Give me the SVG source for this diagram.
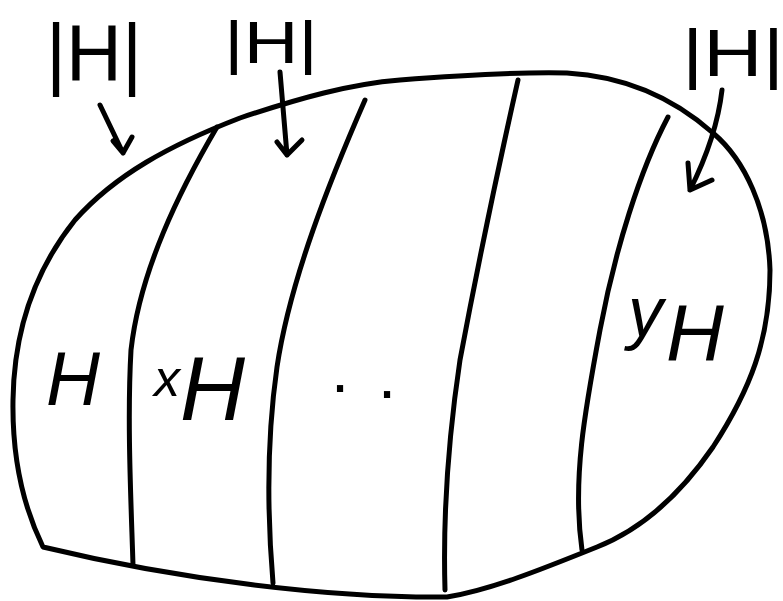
<svg xmlns="http://www.w3.org/2000/svg" width="783" height="601" viewBox="0 0 783 601">
<style>
.ink{fill:none;stroke:#000;stroke-width:5;stroke-linecap:round;stroke-linejoin:round}
.lbl{font-family:"Liberation Sans",Arial,sans-serif;fill:#000}
.it{font-style:italic}
</style>
<rect width="783" height="601" fill="#fff"/>
<g id="group-G">
<path class="ink" d="M43,547 C25,510 12,460 13,400 C14,330 35,270 75,220 C115,175 170,145 240,118 C300,98 350,84 400,80 C450,76 520,72 567,73 C620,76 670,95 713,133 C745,160 768,210 770,270 C770,340 750,390 713,447 C680,495 640,530 597,547 C540,570 490,590 447,597 C330,598 180,580 43,547 Z"/>
</g>
<g id="partitions">
<path class="ink" d="M217,127 C180,190 140,270 131,350 C127,420 131,500 133,565"/>
<path class="ink" d="M365,100 C330,180 290,280 277,367 C268,430 266,500 273,583"/>
<path class="ink" d="M518,80 C500,160 475,280 460,360 C448,440 443,520 445,590"/>
<path class="ink" d="M668,117 C640,170 615,250 600,330 C585,410 572,480 582,550"/>
</g>
<g id="coset-H"><text class="lbl it" x="46" y="405" font-size="76" textLength="54" lengthAdjust="spacingAndGlyphs">H</text></g>
<g id="coset-xH"><text class="lbl it"><tspan x="154" y="396" font-size="52">x</tspan><tspan x="180" y="420" font-size="90">H</tspan></text></g>
<g id="ellipsis"><text class="lbl" font-size="65"><tspan x="331" y="392">.</tspan><tspan x="378" y="398">.</tspan></text></g>
<g id="coset-yH"><text class="lbl it"><tspan x="628" y="336" font-size="70">y</tspan><tspan x="666" y="360" font-size="80">H</tspan></text></g>
<g id="size-1"><text class="lbl" x="46" y="80" font-size="80" textLength="96" lengthAdjust="spacingAndGlyphs">|H|</text></g>
<g id="size-2"><text class="lbl" x="224" y="63" font-size="60" textLength="94" lengthAdjust="spacingAndGlyphs">|H|</text></g>
<g id="size-3"><text class="lbl" x="682" y="76" font-size="66" textLength="102" lengthAdjust="spacingAndGlyphs">|H|</text></g>
<g id="connectors">
<path class="ink" d="M100,105 L123,153 M113,141 L123,153 L132,137"/>
<path class="ink" d="M280,72 L287,155 M277,142 L287,155 L302,140"/>
<path class="ink" d="M722,90 C718,125 705,160 690,190 M688,163 L690,190 L712,180"/>
</g>
</svg>
